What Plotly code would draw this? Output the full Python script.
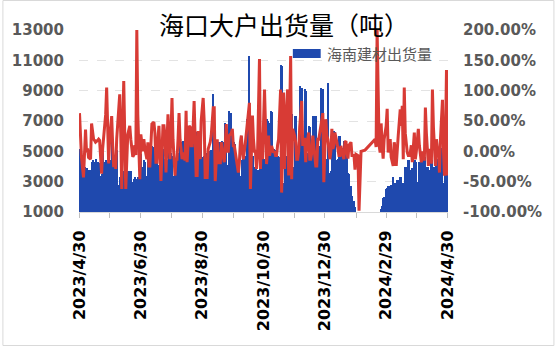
import pandas as pd
import plotly.graph_objects as go

# ---- data (daily, 2023-04-30 .. 2024-04-30) ----
dates = pd.date_range("2023-04-30", "2024-04-30", freq="D")

# 海南建材出货量 (t), one row per week, None = no data that day
volume_weeks = [
    [5150, 5000, 4300, None, 4100, 4000, 3860],
    [3900, 3100, 3800, None, 3800, 4300, 4400],
    [4300, 4200, 4500, None, 4300, 4200, 3400],
    [3400, 3500, 4900, None, 4300, 4400, 4200],
    [4300, 4100, 4400, None, 6500, 4600, 4500],
    [4600, 5150, 5100, None, 2800, 3300, 3400],
    [2900, 3600, 3700, None, 3600, 3200, 3700],
    [3700, 3600, 3700, None, 3000, 3200, 3300],
    [3200, 3100, 3300, None, 4900, 4800, 4000],
    [4000, 4400, 4300, None, 3400, 4500, 4600],
    [4500, 4400, 5350, None, 5300, 4700, 4600],
    [4700, 4000, 4100, None, 4400, 4300, 5150],
    [4400, 4500, 5150, None, 4450, 4900, 4800],
    [4900, 4700, 3400, None, 3500, 4400, 4300],
    [4400, 4900, 5900, None, 5600, 5700, 5680],
    [5680, 7660, 6240, None, 6100, 5900, 5400],
    [5350, 5300, 6340, None, 6300, 4900, 5000],
    [4900, 6000, 5800, None, 4600, 4700, 4900],
    [4600, 4900, 4900, None, 5000, 5100, 5000],
    [8780, 6240, 6000, None, 5500, 5600, 5500],
    [5600, 5600, 5700, None, 5600, 6900, 6800],
    [4000, 4100, 7660, None, 7500, 5700, 5600],
    [5600, 5500, 4000, None, 4100, 4000, 3370],
    [3370, 4400, 4500, None, 4690, 4700, 7100],
    [7100, 11280, 2900, None, 4690, 4700, 4000],
    [4000, 3900, 3800, None, 3800, 4690, 4700],
    [4500, 4600, 4500, None, 7100, 7000, 6900],
    [6900, 7660, 7600, None, 5150, 5100, 4700],
    [4700, 4690, 4600, None, 10700, 10600, 2900],
    [2900, 4690, 4700, None, 6000, 6000, 8900],
    [8900, 7440, 4000, None, 7330, 7300, 5350],
    [5350, 4000, 9300, None, 9200, 6000, 6000],
    [9100, 9000, 4900, None, 6670, 6600, 4900],
    [4900, 7330, 7300, None, 7300, 4000, 4100],
    [5350, 5300, 9200, None, 9100, 4900, 4900],
    [4400, 4500, 9500, None, 3600, 3700, 5150],
    [5150, 6340, 6300, None, 4400, 4500, 6000],
    [6000, 5150, 5200, None, 5700, 5600, 4900],
    [4900, 3600, 3500, None, 2710, 2050, 1725],
    [1700, 1300, 900, None, 600, 0, None],
    [None, None, None, None, None, None, None],
    [None, None, None, None, None, None, None],
    [None, None, 400, None, 450, 500, 1200],
    [1400, 1950, 2000, None, 2500, 2600, 2700],
    [2700, 2600, 2800, None, 3300, 2500, 2900],
    [2800, 3100, 3100, None, 3300, 3300, 2900],
    [2900, 2900, 4000, None, 4000, 4400, 4400],
    [3800, 3800, 3900, None, 4400, 4400, 4300],
    [2900, 3000, 4300, None, 4300, 4400, 4400],
    [4700, 4600, 4000, None, 4000, 3800, 3800],
    [4400, 4400, 4000, None, 4000, 4560, 4500],
    [4200, 4300, 4600, None, 5200, 2800, 2900],
    [4800, 5200, 3500],
]

# 环比 (%), same days
pct_weeks = [
    [63, 20, -10, None, -43, 10, 36],
    [-2, 5, -10, None, -13, 46, 30],
    [20, 18, 15, None, 18, 20, 18],
    [-10, -37, 4, None, 40, 60, 105],
    [30, -20, 20, None, 58, 10, -26],
    [-10, -29, 20, None, 60, 94, 30],
    [-62, 40, 116, None, -62, 0, 28],
    [35, 42, 20, None, -9, -6, 10],
    [-6, 200, 60, None, -46, 28, 10],
    [0, 20, 5, None, -13, 15, -24],
    [-24, 10, 45, None, 48, 30, -18],
    [-18, 20, 42, None, -49, 0, 42],
    [42, 26, -35, None, 61, 20, -13],
    [30, 88, 20, None, -40, -13, -13],
    [20, 63, 20, None, -13, -2, -7],
    [-15, 67, -18, None, 42, 40, 9],
    [9, 40, 83, None, -40, -40, 31],
    [31, -13, 50, None, 88, 50, -43],
    [-43, -43, 4, None, 15, 26, 50],
    [72, 72, -49, None, 20, -21, -10],
    [-21, 15, 0, None, -18, 30, 45],
    [0, 0, 26, None, 30, 37, 9],
    [9, 0, -13, None, -35, -18, 15],
    [26, 0, -13, None, 15, 30, 42],
    [64, 80, -62, None, 59, 20, 0],
    [0, -29, -10, None, 152, -29, 31],
    [-13, 40, 102, None, -21, 0, 26],
    [-7, 0, 9, None, -2, 0, -7],
    [-7, 10, 20, None, 102, -68, 0],
    [97, -29, 40, None, 102, -40, 60],
    [157, -46, 37, None, 25, 15, -13],
    [-13, 0, 40, None, 83, 9, 20],
    [20, -18, 10, None, 31, -13, -13],
    [-2, 26, 10, None, -24, -24, 20],
    [20, 31, 40, None, 63, -51, 0],
    [53, 26, 20, None, -13, 0, 37],
    [4, 10, 31, None, 15, 0, -7],
    [-7, 9, 0, None, -13, 15, 17],
    [-2, -12, 10, None, 15, -7, -7],
    [-7, -30, -5, None, -7, -98, None],
    [0, None, None, None, 2, None, None],
    [None, None, None, None, None, None, None],
    [20, 7, 200, None, 10, -2, 46],
    [10, -12, 20, None, 42, 70, -2],
    [10, 20, -10, None, -24, 15, 5],
    [-24, 10, 26, None, 69, 42, 75],
    [-13, 105, 30, None, -2, -7, -7],
    [-2, 10, -18, None, 31, -13, 0],
    [26, 37, 10, None, -18, 0, -13],
    [-13, 72, 30, None, -24, 4, -18],
    [-18, 102, 40, None, -24, 20, 4],
    [4, -35, 20, None, 85, 0, -40],
    [20, 134, -40],
]

volume = [v for w in volume_weeks for v in w]
pct = [v for w in pct_weeks for v in w]

tick_dates = ["2023-04-30", "2023-06-30", "2023-08-30", "2023-10-30",
              "2023-12-30", "2024-02-29", "2024-04-30"]
tick_labels = ["2023/4/30", "2023/6/30", "2023/8/30", "2023/10/30",
               "2023/12/30", "2024/2/29", "2024/4/30"]
minor_dates = ["2023-05-30", "2023-07-30", "2023-09-30", "2023-11-30",
               "2024-01-30", "2024-03-30"]
left_ticks = [1000, 3000, 5000, 7000, 9000, 11000, 13000]
left_labels = ["1000", "3000", "5000", "7000", "9000", "11000", "13000"]
right_ticks = [-100, -50, 0, 50, 100, 150, 200]
right_labels = ["-100.00%", "-50.00%", "0.00%", "50.00%", "100.00%", "150.00%", "200.00%"]

title_text = "海口大户出货量（吨）"
legend_text = "海南建材出货量"

BLUE = "#1F49AE"
RED = "#D83B35"
GRAY = "#595959"

fig = go.Figure()
fig.add_trace(go.Bar(x=dates, y=volume, name=legend_text, marker_color=BLUE,
                     marker_line_width=0, showlegend=False))
fig.add_trace(go.Scatter(x=dates, y=pct, yaxis="y2", mode="lines",
                         line=dict(color=RED, width=3), connectgaps=True,
                         showlegend=False))

W, H = 555, 347
L, R, T, B = 77, 107, 30, 135
pw, ph = W - L - R, H - T - B


def px(x):
    return (x - L) / pw


def py(y):
    return (H - B - y) / ph


tick_font = dict(family="DejaVu Sans", size=15, color=GRAY, weight="bold")

fig.update_layout(
    width=W, height=H,
    margin=dict(l=L, r=R, t=T, b=B),
    paper_bgcolor="white", plot_bgcolor="white",
    bargap=0,
    xaxis=dict(type="date", range=["2023-04-29 12:00", "2024-04-30 12:00"],
               tickmode="array", tickvals=tick_dates, ticktext=tick_labels,
               tickangle=-90, ticks="outside", ticklen=5, tickcolor="#BFBFBF",
               tickfont=dict(family="DejaVu Sans", size=16, color="black", weight="bold"),
               showline=True, linecolor="#D9D9D9", linewidth=1,
               showgrid=False, zeroline=False, ticklabelstandoff=6,
               minor=dict(tickmode="array", tickvals=minor_dates, ticks="outside",
                          ticklen=5, tickcolor="#BFBFBF", showgrid=False)),
    yaxis=dict(range=[1000, 13000], tickmode="array", tickvals=left_ticks,
               ticktext=left_labels,
               tickfont=tick_font, showgrid=True, gridcolor="#E3E3E3",
               griddash="dash", zeroline=False, ticklabelstandoff=14),
    yaxis2=dict(range=[-100, 200], overlaying="y", side="right",
                tickmode="array", tickvals=right_ticks, ticktext=right_labels,
                tickfont=tick_font, showgrid=False, zeroline=False,
                ticklabelstandoff=14),
    shapes=[
        dict(type="rect", xref="paper", yref="paper",
             x0=px(0.5), x1=px(554.5), y0=py(345.5), y1=py(0.5),
             line=dict(color="#D9D9D9", width=1), fillcolor="rgba(0,0,0,0)"),
        dict(type="rect", xref="paper", yref="paper",
             x0=px(292), x1=px(320), y0=py(58), y1=py(49),
             line=dict(width=0), fillcolor=BLUE),
    ],
    annotations=[
        dict(text=title_text, xref="paper", yref="paper", x=px(283), y=py(24),
             xanchor="center", yanchor="middle", showarrow=False,
             font=dict(family="Noto Sans CJK SC", size=25, color="black")),
        dict(text=legend_text, xref="paper", yref="paper", x=px(324), y=py(53),
             xanchor="left", yanchor="middle", showarrow=False,
             font=dict(family="Noto Sans CJK SC", size=15, color=GRAY)),
    ],
)

fig.write_html("out.html")
